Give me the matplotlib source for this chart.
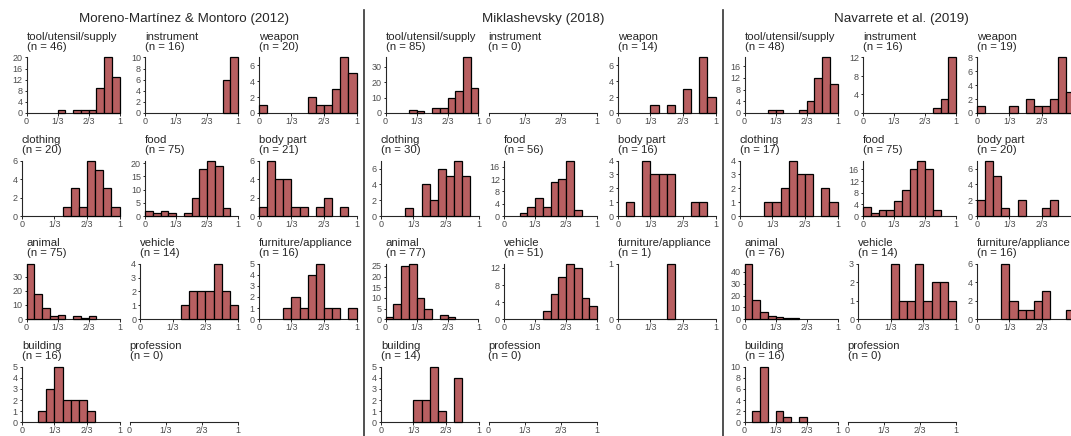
import numpy as np
import matplotlib
matplotlib.use("Agg")
import matplotlib.pyplot as plt

plt.rcParams['font.family'] = ['Liberation Sans', 'DejaVu Sans']

# histogram counts, 12 bins of width 1/12 over [0, 1]
categories = ["tool/utensil/supply", "instrument", "weapon",
              "clothing", "food", "body part",
              "animal", "vehicle", "furniture/appliance",
              "building", "profession"]

dataset_titles = ["Moreno-Martínez & Montoro (2012)",
                  "Miklashevsky (2018)",
                  "Navarrete et al. (2019)"]

mm_counts = [
    [0, 0, 0, 0, 1, 0, 1, 1, 1, 9, 20, 13],
    [0, 0, 0, 0, 0, 0, 0, 0, 0, 0, 6, 10],
    [1, 0, 0, 0, 0, 0, 2, 1, 1, 3, 7, 5],
    [0, 0, 0, 0, 0, 1, 3, 1, 6, 5, 3, 1],
    [2, 1, 2, 1, 0, 1, 7, 18, 21, 19, 3, 0],
    [1, 6, 4, 4, 1, 1, 0, 1, 2, 0, 1, 0],
    [39, 18, 8, 2, 3, 0, 2, 1, 2, 0, 0, 0],
    [0, 0, 0, 0, 0, 1, 2, 2, 2, 4, 2, 1],
    [0, 0, 0, 1, 2, 1, 4, 5, 1, 1, 0, 1],
    [0, 0, 1, 3, 5, 2, 2, 2, 1, 0, 0, 0],
    [0] * 12,
]

mik_counts = [
    [0, 0, 0, 2, 1, 0, 3, 3, 10, 14, 36, 16],
    [0] * 12,
    [0, 0, 0, 0, 1, 0, 1, 0, 3, 0, 7, 2],
    [0, 0, 0, 1, 0, 4, 2, 6, 5, 7, 5, 0],
    [0, 0, 1, 3, 6, 3, 11, 12, 18, 2, 0, 0],
    [0, 1, 0, 4, 3, 3, 3, 0, 0, 1, 1, 0],
    [1, 7, 25, 26, 10, 5, 0, 2, 1, 0, 0, 0],
    [0, 0, 0, 0, 0, 2, 6, 10, 13, 12, 5, 3],
    [0, 0, 0, 0, 0, 0, 1, 0, 0, 0, 0, 0],
    [0, 0, 0, 0, 2, 2, 5, 1, 0, 4, 0, 0],
    [0] * 12,
]

nav_counts = [
    [0, 0, 0, 1, 1, 0, 0, 1, 4, 12, 19, 10],
    [0, 0, 0, 0, 0, 0, 0, 0, 0, 1, 3, 12],
    [1, 0, 0, 0, 1, 0, 2, 1, 1, 2, 8, 3],
    [0, 0, 0, 1, 1, 2, 4, 3, 3, 0, 2, 1],
    [3, 1, 2, 2, 5, 9, 16, 19, 16, 2, 0, 0],
    [2, 7, 5, 1, 0, 2, 0, 0, 1, 2, 0, 0],
    [47, 16, 6, 3, 2, 1, 1, 0, 0, 0, 0, 0],
    [0, 0, 0, 0, 3, 1, 1, 3, 1, 2, 2, 1],
    [0, 0, 0, 6, 2, 1, 1, 2, 3, 0, 0, 1],
    [0, 2, 10, 0, 2, 1, 0, 1, 0, 0, 0, 0],
    [0] * 12,
]

x_tick_vals = [0, 1 / 3, 2 / 3, 1]
x_tick_labels = ["0", "1/3", "2/3", "1"]

FILL = "#b85f61"
INK = "#262626"
W, H = 1071, 436


def y_ticks(top):
    raw = top / 5.22
    mag = 10 ** np.floor(np.log10(raw)) if raw >= 1 else 1
    for s in [1, 2, 4, 5, 10]:
        if s * mag >= raw:
            step = s * mag
            break
    return np.arange(0, top + 0.01, step)


fig = plt.figure(figsize=(W / 100, H / 100), dpi=100)

edges = np.linspace(0, 1, 13)
panel_left = [11, 370, 729]
for p, counts_set in enumerate([mm_counts, mik_counts, nav_counts]):
    fig.text((panel_left[p] + 172.75) / W, 1 - 19 / H, dataset_titles[p],
             ha="center", va="center", fontsize=9.6, color=INK)
    for i, (cat, counts) in enumerate(zip(categories, counts_set)):
        r, c = divmod(i, 3)
        n = sum(counts)
        cell_l = panel_left[p] + 118.5 * c
        right = cell_l + 108.5
        if n > 0:
            top = max(counts)
            yt = y_ticks(top)
            nd = len(str(int(yt[-1])))
            left = cell_l + 6 + 4.8 * nd
        else:
            top = 1
            left = cell_l
        bottom = 113 + 103.1 * r
        ax = fig.add_axes([left / W, 1 - bottom / H, (right - left) / W, 55.5 / H])
        ax.set_xlim(0, 1)
        ax.set_ylim(0, top)
        if n > 0:
            nz = [k for k in range(12) if counts[k] > 0]
            ax.bar(edges[nz], [counts[k] for k in nz], width=1 / 12, align="edge",
                   color=FILL, edgecolor="black", linewidth=0.9, clip_on=False, zorder=3)
            ax.set_yticks(yt)
            ax.set_yticklabels([str(int(v)) for v in yt])
            ax.spines["left"].set_bounds(0, top)
        else:
            ax.set_yticks([])
            ax.spines["left"].set_visible(False)
        ax.set_xticks(x_tick_vals)
        # the right-most column of the last panel runs past the picture edge
        labels = list(x_tick_labels)
        if right > W:
            labels[-1] = ""
        ax.set_xticklabels(labels)
        ax.spines["bottom"].set_bounds(0, 1)
        for s in ["top", "right"]:
            ax.spines[s].set_visible(False)
        for s in ["left", "bottom"]:
            ax.spines[s].set_color(INK)
            ax.spines[s].set_linewidth(0.8)
        ax.tick_params(length=1.8, width=0.7, pad=1.2, labelsize=6.5,
                       colors=INK, labelcolor="#4d4d4d")
        ax.patch.set_visible(False)
        ax.annotate(cat, xy=(0, 1), xycoords="axes fraction", xytext=(0, 21),
                    textcoords="offset pixels", ha="left", va="center",
                    fontsize=8.2, color=INK)
        ax.annotate(f"(n = {n})", xy=(0, 1), xycoords="axes fraction", xytext=(0, 11),
                    textcoords="offset pixels", ha="left", va="center",
                    fontsize=8.2, color=INK)

# separators between the three datasets
for xs in [363.5, 722.5]:
    fig.add_artist(plt.Line2D([xs / W, xs / W], [0, 1 - 10 / H],
                              color="#333333", linewidth=1.2))

fig.savefig("out.png", dpi=100)
